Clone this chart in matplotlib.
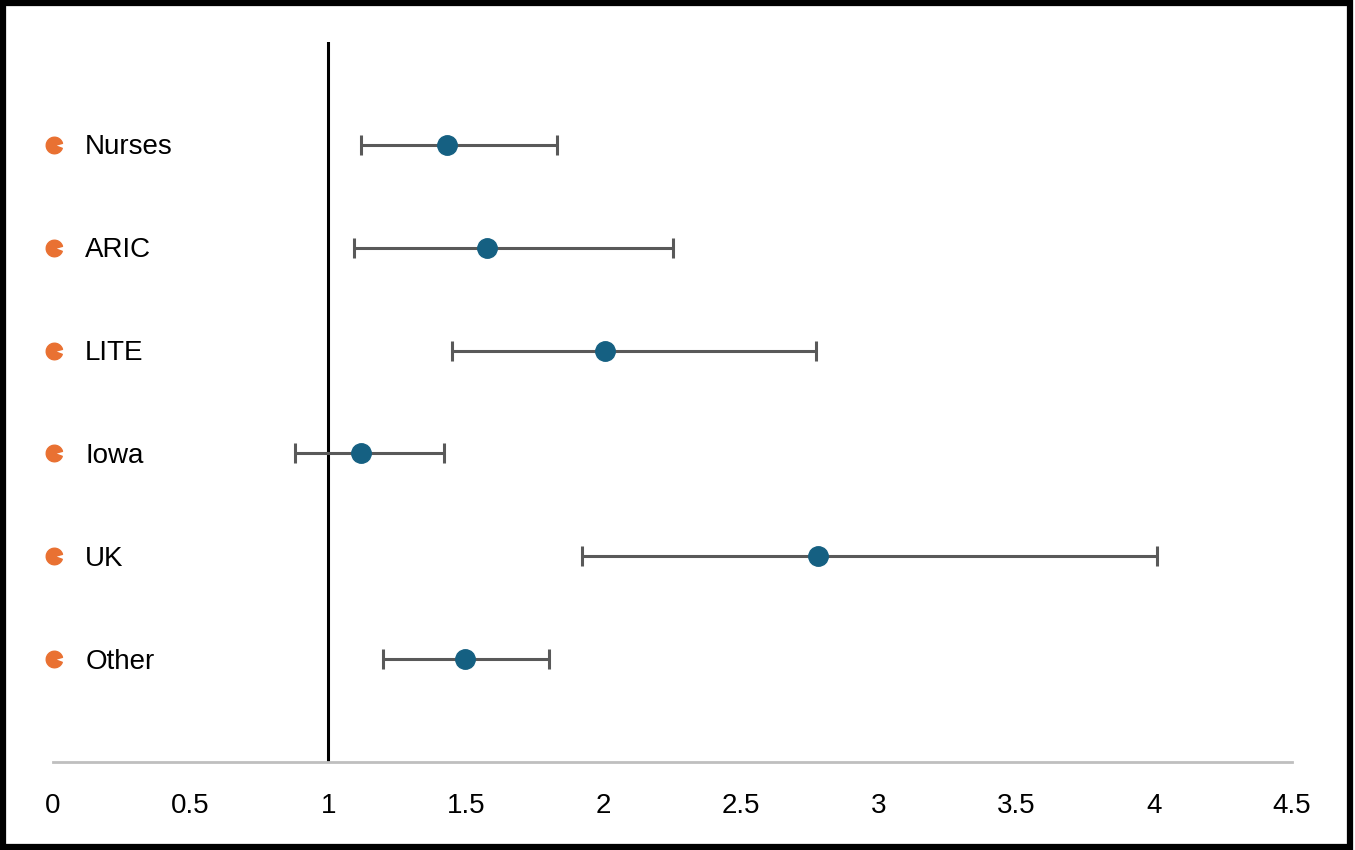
import matplotlib as mpl
mpl.use('Agg')
import matplotlib.pyplot as plt
from matplotlib.path import Path
from matplotlib.patches import Rectangle
import numpy as np

plt.rcParams['font.family'] = ['Liberation Sans', 'DejaVu Sans']

studies = ['Nurses', 'ARIC', 'LITE', 'Iowa', 'UK', 'Other']
estimate = [1.43, 1.575, 2.005, 1.12, 2.78, 1.495]
lower = [1.12, 1.095, 1.45, 0.88, 1.92, 1.20]
upper = [1.83, 2.25, 2.77, 1.42, 4.01, 1.80]
xticks = [0, 0.5, 1, 1.5, 2, 2.5, 3, 3.5, 4, 4.5]

blue = '#156082'
orange = '#E97132'
grey = '#595959'

fig = plt.figure(figsize=(13.55, 8.5), dpi=100)
ax = fig.add_axes([53/1355, 88/850, (1292-53)/1355, (762-42)/850])

y = np.arange(1, len(studies) + 1)
est = np.array(estimate)
err = [est - np.array(lower), np.array(upper) - est]

ax.errorbar(est, y, xerr=err, fmt='none', ecolor=grey, elinewidth=2.2,
            capsize=7, capthick=2.2, zorder=2)
ax.plot(est, y, 'o', color=blue, markersize=14, zorder=3)
ax.plot([1, 1], [0, 7], color='black', linewidth=2.2, zorder=1)

# pie-shaped bullets and study labels at the left
bullet = Path.wedge(15, 340)
trans = ax.get_yaxis_transform()
for yi, name in zip(y, studies):
    ax.plot([0.0005], [yi], marker=bullet, color=orange, markersize=12,
            transform=trans, clip_on=False, zorder=4)
    ax.text(0.026, yi + 0.025, name, transform=trans, ha='left', va='center',
            fontsize=20, color='black')

ax.set_xlim(0, 4.5)
ax.set_ylim(7, 0)
ax.set_xticks(xticks)
ax.set_xticklabels([f'{t:g}' for t in xticks], fontsize=20)
ax.set_yticks([])
ax.tick_params(axis='x', length=0, pad=22)
for s in ['top', 'right', 'left']:
    ax.spines[s].set_visible(False)
ax.spines['bottom'].set_color('#BFBFBF')
ax.spines['bottom'].set_linewidth(2)

fig.patches.append(Rectangle((0.002, 0.003), 0.994, 0.994, transform=fig.transFigure,
                             fill=False, edgecolor='black', linewidth=4.5))

plt.savefig('out.png', dpi=100)
plt.close()
